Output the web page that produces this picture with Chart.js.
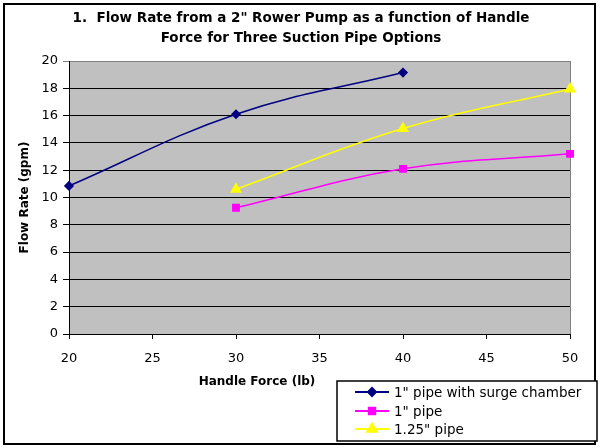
<!DOCTYPE html>
<html>
<head>
<meta charset="utf-8">
<script src="https://cdn.jsdelivr.net/npm/chart.js@4/dist/chart.umd.min.js"></script>
<style>
  html, body { margin: 0; padding: 0; background: #fff; }
  #wrap { width: 600px; height: 448px; }
</style>
</head>
<body>
<div id="wrap"><canvas id="flowChart" width="600" height="448"></canvas></div>
<script>
// data
const forceTicks = [20, 25, 30, 35, 40, 45, 50];
const flowTicks = [0, 2, 4, 6, 8, 10, 12, 14, 16, 18, 20];
const surgeForce = [20, 30, 40];
const surgeFlow = [10.85, 16.1, 19.15];
const pipe1Force = [30, 40, 50];
const pipe1Flow = [9.25, 12.1, 13.2];
const pipe125Force = [30, 40, 50];
const pipe125Flow = [10.6, 15.05, 17.95];
const seriesNames = ['1" pipe with surge chamber', '1" pipe', '1.25" pipe'];
const titleLines = ['1.  Flow Rate from a 2" Rower Pump as a function of Handle', 'Force for Three Suction Pipe Options'];

const FONT = '"DejaVu Sans", Verdana, sans-serif';

function toPoints(xs, ys) {
  return xs.map((x, i) => ({ x: x, y: ys[i] }));
}

// gray plot area, gray right edge, title, outer frame, legend box, x title
const chartDecor = {
  id: 'chartDecor',
  beforeDraw(chart) {
    const { ctx, chartArea: a } = chart;
    ctx.save();
    ctx.fillStyle = '#fff';
    ctx.fillRect(0, 0, chart.width, chart.height);
    ctx.fillStyle = '#c0c0c0';
    ctx.fillRect(a.left, a.top, a.right - a.left, a.bottom - a.top);
    ctx.restore();
  },
  beforeDatasetsDraw(chart) {
    const { ctx, chartArea: a } = chart;
    ctx.save();
    ctx.strokeStyle = '#808080';
    ctx.lineWidth = 1;
    ctx.beginPath();
    ctx.moveTo(a.right + 0.5, a.top);
    ctx.lineTo(a.right + 0.5, a.bottom);
    ctx.stroke();
    ctx.restore();
  },
  afterDraw(chart) {
    const ctx = chart.ctx;
    ctx.save();
    ctx.fillStyle = '#000';
    ctx.textAlign = 'center';
    ctx.textBaseline = 'middle';

    // chart title, centred on the whole frame
    ctx.font = 'bold 13.5px ' + FONT;
    titleLines.forEach((t, i) => ctx.fillText(t, 301, 18 + i * 20));

    // x axis title, shifted left like the original
    ctx.font = 'bold 12px ' + FONT;
    ctx.fillText('Handle Force (lb)', 257, 382);

    // outer frame
    ctx.strokeStyle = '#000';
    ctx.lineWidth = 2;
    ctx.strokeRect(4, 4, 591, 440);

    // legend
    ctx.fillStyle = '#fff';
    ctx.fillRect(337, 381, 260, 60);
    ctx.lineWidth = 1.5;
    ctx.strokeRect(337, 381, 260, 60);
    const rows = [392, 411, 429];
    chart.data.datasets.forEach((ds, i) => {
      const y = rows[i];
      ctx.strokeStyle = ds.borderColor;
      ctx.lineWidth = 2;
      ctx.beginPath();
      ctx.moveTo(355, y);
      ctx.lineTo(389, y);
      ctx.stroke();
      Chart.helpers.drawPoint(ctx, {
        pointStyle: ds.pointStyle,
        radius: ds.pointRadius,
        rotation: 0,
        borderWidth: 1
      }, 372, y);
      ctx.fillStyle = ds.pointBackgroundColor;
      ctx.strokeStyle = ds.pointBorderColor;
      ctx.fill();
      ctx.fillStyle = '#000';
      ctx.font = '13.5px ' + FONT;
      ctx.textAlign = 'left';
      ctx.fillText(ds.label, 394, y + 1);
    });
    ctx.restore();
  }
};

const ctx = document.getElementById('flowChart').getContext('2d');
const flowChart = new Chart(ctx, {
  type: 'scatter',
  data: {
    datasets: [
      {
        label: seriesNames[0],
        data: toPoints(surgeForce, surgeFlow),
        showLine: true,
        tension: 0.4,
        clip: false,
        borderColor: '#000080',
        borderWidth: 1.5,
        pointStyle: 'rectRot',
        pointRadius: 4,
        pointBackgroundColor: '#000080',
        pointBorderColor: '#000080'
      },
      {
        label: seriesNames[1],
        data: toPoints(pipe1Force, pipe1Flow),
        showLine: true,
        tension: 0.4,
        clip: false,
        borderColor: '#ff00ff',
        borderWidth: 1.5,
        pointStyle: 'rect',
        pointRadius: 4.5,
        pointBackgroundColor: '#ff00ff',
        pointBorderColor: '#ff00ff'
      },
      {
        label: seriesNames[2],
        data: toPoints(pipe125Force, pipe125Flow),
        showLine: true,
        tension: 0.4,
        clip: false,
        borderColor: '#ffff00',
        borderWidth: 1.5,
        pointStyle: 'triangle',
        pointRadius: 5.5,
        pointBackgroundColor: '#ffff00',
        pointBorderColor: '#ffff00'
      }
    ]
  },
  options: {
    responsive: false,
    animation: false,
    devicePixelRatio: 1,
    layout: { padding: { left: 4, right: 30, top: 61, bottom: 0 } },
    plugins: {
      legend: { display: false },
      tooltip: { enabled: false },
      title: { display: false }
    },
    scales: {
      x: {
        type: 'linear',
        min: forceTicks[0],
        max: forceTicks[forceTicks.length - 1],
        afterBuildTicks: (scale) => { scale.ticks = forceTicks.map(v => ({ value: v })); },
        afterFit: (scale) => { scale.height = 114; },
        ticks: { color: '#000', font: { family: FONT, size: 13 }, padding: 12, maxRotation: 0 },
        grid: { drawOnChartArea: false, drawTicks: true, tickLength: 5, color: '#000' },
        border: { display: true, color: '#000', width: 1 }
      },
      y: {
        type: 'linear',
        min: flowTicks[0],
        max: flowTicks[flowTicks.length - 1],
        afterBuildTicks: (scale) => { scale.ticks = flowTicks.map(v => ({ value: v })); },
        afterFit: (scale) => { scale.width = 65; },
        ticks: { color: '#000', font: { family: FONT, size: 13 }, padding: 5 },
        grid: {
          color: (c) => (c.tick && c.tick.value === 20 ? '#808080' : '#000'),
          lineWidth: 1,
          tickLength: 6
        },
        border: { display: true, color: '#000', width: 1 },
        title: {
          display: true,
          text: 'Flow Rate (gpm)',
          color: '#000',
          font: { family: FONT, size: 12, weight: 'bold' },
          padding: { top: 14, bottom: 0 }
        }
      }
    }
  },
  plugins: [chartDecor]
});
</script>
</body>
</html>
